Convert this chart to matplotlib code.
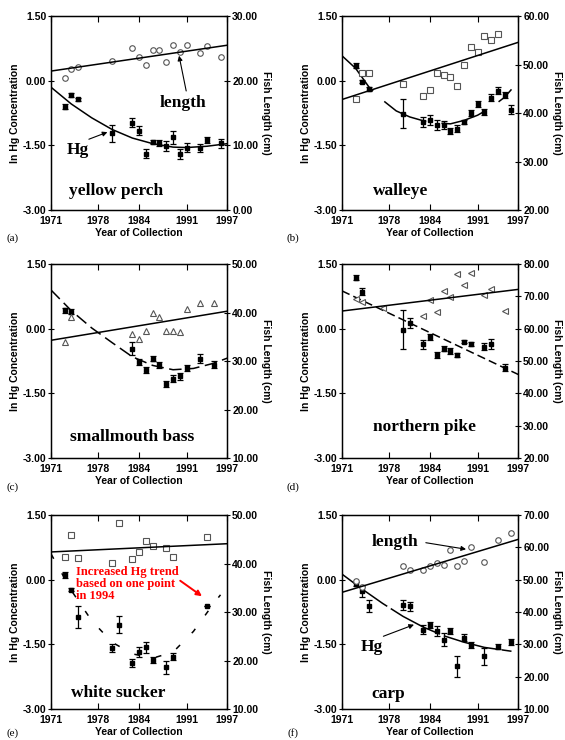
import matplotlib
matplotlib.use("Agg")
import matplotlib.pyplot as plt
from matplotlib.ticker import FormatStrFormatter

plt.rcParams["axes.unicode_minus"] = False
plt.rcParams["lines.scale_dashes"] = False
plt.rcParams["font.family"] = ["Liberation Sans", "DejaVu Sans"]

YEAR_TICKS = [1971, 1978, 1984, 1991, 1997]
HG_TICKS = [1.5, 0.0, -1.5, -3.0]

# ---------- (a) yellow perch ----------
perch_years = [1973, 1974, 1975, 1980, 1983, 1984, 1985, 1986, 1987, 1988, 1989, 1990, 1991, 1993, 1994, 1996]
perch_hg = [-0.60, -0.33, -0.43, -1.22, -0.97, -1.16, -1.69, -1.42, -1.45, -1.51, -1.31, -1.70, -1.55, -1.56, -1.38, -1.45]
perch_hg_err = [0.05, 0.04, 0.04, 0.20, 0.10, 0.10, 0.10, 0.05, 0.07, 0.12, 0.15, 0.12, 0.10, 0.10, 0.07, 0.10]
perch_len_years = perch_years
perch_len = [20.5, 21.8, 22.2, 23.1, 25.0, 23.6, 22.5, 24.7, 24.8, 22.9, 25.5, 24.4, 25.5, 24.3, 25.4, 23.7]
perch_fit_years = [1971, 1974, 1977, 1980, 1983, 1986, 1989, 1991, 1994, 1997]
perch_hg_fit = [-0.15, -0.54, -0.86, -1.13, -1.33, -1.46, -1.54, -1.55, -1.52, -1.46]
perch_len_fit = [21.5, 25.5]

# ---------- (b) walleye ----------
walleye_years = [1973, 1974, 1975, 1980, 1983, 1984, 1985, 1986, 1987, 1988, 1989, 1990, 1991, 1992, 1993, 1994, 1995, 1996]
walleye_hg = [0.35, -0.02, -0.19, -0.76, -0.95, -0.91, -1.03, -1.03, -1.16, -1.11, -0.95, -0.74, -0.54, -0.72, -0.39, -0.23, -0.32, -0.67]
walleye_hg_err = [0.06, 0.04, 0.04, 0.33, 0.12, 0.12, 0.12, 0.10, 0.07, 0.08, 0.05, 0.07, 0.07, 0.07, 0.08, 0.08, 0.07, 0.10]
walleye_len_years = [1973, 1974, 1975, 1980, 1983, 1984, 1985, 1986, 1987, 1988, 1989, 1990, 1991, 1992, 1993, 1994]
walleye_len = [43.0, 48.3, 48.2, 46.1, 43.5, 44.7, 48.3, 47.8, 47.4, 45.6, 49.9, 53.7, 52.6, 55.9, 55.1, 56.4]
walleye_fit_years = [1971, 1973, 1975, 1977, 1979, 1981, 1983, 1985, 1987, 1989, 1991, 1993, 1995, 1996]
walleye_hg_fit = [0.58, 0.29, -0.15, -0.45, -0.70, -0.84, -0.93, -0.98, -1.00, -0.92, -0.80, -0.62, -0.38, -0.20]
walleye_len_fit = [42.8, 54.6]

# ---------- (c) smallmouth bass ----------
smb_years = [1973, 1974, 1983, 1984, 1985, 1986, 1987, 1988, 1989, 1990, 1991, 1993, 1995]
smb_hg = [0.43, 0.40, -0.46, -0.77, -0.96, -0.69, -0.83, -1.29, -1.16, -1.10, -0.92, -0.69, -0.83]
smb_hg_err = [0.06, 0.05, 0.15, 0.08, 0.07, 0.05, 0.07, 0.07, 0.08, 0.08, 0.07, 0.10, 0.08]
smb_len_years = smb_years
smb_len = [34.0, 39.0, 35.5, 34.5, 36.2, 39.9, 39.1, 36.2, 36.2, 36.1, 40.7, 41.9, 41.9]
smb_fit_years = [1971, 1974, 1977, 1980, 1983, 1986, 1989, 1992, 1995, 1997]
smb_hg_fit = [0.90, 0.42, 0.02, -0.32, -0.65, -0.85, -0.95, -0.92, -0.80, -0.68]
smb_len_fit = [34.3, 40.3]

# ---------- (d) northern pike ----------
pike_years = [1973, 1974, 1980, 1981, 1983, 1984, 1985, 1986, 1987, 1988, 1989, 1990, 1992, 1993, 1995]
pike_hg = [1.19, 0.86, -0.02, 0.13, -0.36, -0.18, -0.61, -0.46, -0.51, -0.61, -0.30, -0.36, -0.42, -0.36, -0.90]
pike_hg_err = [0.05, 0.08, 0.46, 0.12, 0.10, 0.07, 0.07, 0.05, 0.07, 0.05, 0.03, 0.05, 0.08, 0.12, 0.08]
pike_len_years = [1973, 1974, 1977, 1983, 1984, 1985, 1986, 1987, 1988, 1989, 1990, 1992, 1993, 1995]
pike_len = [69.3, 68.3, 66.3, 64.0, 69.0, 65.3, 71.7, 69.9, 76.9, 73.5, 77.4, 70.5, 72.2, 65.5]
pike_fit_years = [1971, 1997]
pike_hg_fit = [0.88, -1.06]
pike_len_fit = [65.5, 72.2]

# ---------- (e) white sucker ----------
sucker_years = [1973, 1974, 1975, 1980, 1981, 1983, 1984, 1985, 1986, 1988, 1989, 1994]
sucker_hg = [0.11, -0.23, -0.86, -1.58, -1.04, -1.93, -1.68, -1.57, -1.87, -2.03, -1.79, -0.61]
sucker_hg_err = [0.08, 0.04, 0.25, 0.10, 0.20, 0.10, 0.12, 0.12, 0.07, 0.15, 0.08, 0.0]
sucker_len_years = sucker_years
sucker_len = [41.4, 45.9, 41.2, 40.1, 48.4, 41.0, 42.4, 44.6, 43.6, 43.2, 41.4, 45.5]
sucker_fit_years = [1971, 1974, 1977, 1980, 1983, 1986, 1989, 1992, 1995, 1996]
sucker_hg_fit = [0.60, -0.25, -0.95, -1.45, -1.72, -1.82, -1.68, -1.20, -0.55, -0.35]
sucker_len_fit = [42.4, 44.1]

# ---------- (f) carp ----------
carp_years = [1973, 1974, 1975, 1980, 1981, 1983, 1984, 1985, 1986, 1987, 1988, 1989, 1990, 1992, 1994, 1996]
carp_hg = [-0.10, -0.27, -0.61, -0.58, -0.62, -1.16, -1.06, -1.19, -1.39, -1.19, -2.01, -1.35, -1.51, -1.78, -1.55, -1.45]
carp_hg_err = [0.05, 0.12, 0.15, 0.12, 0.10, 0.10, 0.07, 0.12, 0.15, 0.08, 0.25, 0.08, 0.07, 0.20, 0.05, 0.07]
carp_len_years = [1973, 1974, 1980, 1981, 1983, 1984, 1985, 1986, 1987, 1988, 1989, 1990, 1992, 1994, 1996]
carp_len = [49.6, 47.7, 54.3, 53.0, 53.0, 54.3, 55.1, 54.6, 59.2, 54.1, 55.8, 60.2, 55.4, 62.3, 64.5]
carp_fit_years = [1971, 1974, 1977, 1980, 1983, 1986, 1989, 1992, 1996]
carp_hg_fit = [0.13, -0.22, -0.55, -0.85, -1.10, -1.30, -1.45, -1.57, -1.66]
carp_len_fit = [46.1, 62.5]

LEN_LIMITS = {"a": (0, 30), "b": (20, 60), "c": (10, 50), "d": (20, 80), "e": (10, 50), "f": (10, 70)}

SERIF = ["Liberation Serif", "DejaVu Serif"]


def draw_panel(rect, letter, years, hg, hg_err, len_years, length, fit_years, hg_fit,
               len_fit, len_marker, dashes):
    ax = fig.add_axes(rect)
    ax2 = ax.twinx()

    # Hg concentration (left axis)
    ax.errorbar(years, hg, yerr=hg_err, fmt="s", ms=3, color="black",
                ecolor="black", elinewidth=0.9, capsize=2, capthick=0.9, zorder=3)
    if dashes is None:
        ax.plot(fit_years, hg_fit, color="black", lw=1.1)
    else:
        ax.plot(fit_years, hg_fit, color="black", lw=1.1, dashes=dashes)

    # fish length (right axis)
    ax2.plot(len_years, length, linestyle="none", marker=len_marker, ms=4,
             mfc="white", mec="#555555", mew=0.8)
    ax2.plot([1971, 1997], len_fit, color="black", lw=1.1)

    ax.set_xlim(1971, 1997)
    ax.set_ylim(-3.0, 1.5)
    ax2.set_ylim(*LEN_LIMITS[letter])
    ax.set_xticks(YEAR_TICKS)
    ax.set_yticks(HG_TICKS)
    lo, hi = LEN_LIMITS[letter]
    ax2.set_yticks(list(range(lo, hi + 1, 10)))
    ax.yaxis.set_major_formatter(FormatStrFormatter("%.2f"))
    ax2.yaxis.set_major_formatter(FormatStrFormatter("%.2f"))

    ax.tick_params(axis="x", direction="in", top=True, length=4, width=0.8,
                   labelsize=7.5, pad=4)
    ax.tick_params(axis="y", direction="inout", length=5, width=0.8,
                   labelsize=7.5, pad=1)
    ax2.tick_params(axis="y", direction="inout", length=5, width=0.8,
                    labelsize=7.5, pad=1)
    for lab in ax.get_xticklabels() + ax.get_yticklabels() + ax2.get_yticklabels():
        lab.set_fontweight("bold")
    for sp in ax.spines.values():
        sp.set_linewidth(1.0)

    ax.set_xlabel("Year of Collection", fontsize=7.5, fontweight="bold", labelpad=2)
    ax.set_ylabel("ln Hg Concentration", fontsize=7.5, fontweight="bold", labelpad=2)
    ax2.set_ylabel("Fish Length (cm)", fontsize=7.5, fontweight="bold",
                   rotation=270, labelpad=9)
    return ax, ax2


fig = plt.figure(figsize=(5.65, 7.4), dpi=100)

W, H = 0.312, 0.262
LEFT_X, RIGHT_X = 0.0903, 0.6053
ROW_Y = [0.7162, 0.381, 0.0419]

ax_a, ax2_a = draw_panel([LEFT_X, ROW_Y[0], W, H], "a", perch_years, perch_hg, perch_hg_err,
                         perch_len_years, perch_len, perch_fit_years, perch_hg_fit,
                         perch_len_fit, "o", None)
ax_b, ax2_b = draw_panel([RIGHT_X, ROW_Y[0], W, H], "b", walleye_years, walleye_hg, walleye_hg_err,
                         walleye_len_years, walleye_len, walleye_fit_years, walleye_hg_fit,
                         walleye_len_fit, "s", (34, 11))
ax_c, ax2_c = draw_panel([LEFT_X, ROW_Y[1], W, H], "c", smb_years, smb_hg, smb_hg_err,
                         smb_len_years, smb_len, smb_fit_years, smb_hg_fit,
                         smb_len_fit, "^", (9, 4))
ax_d, ax2_d = draw_panel([RIGHT_X, ROW_Y[1], W, H], "d", pike_years, pike_hg, pike_hg_err,
                         pike_len_years, pike_len, pike_fit_years, pike_hg_fit,
                         pike_len_fit, "<", (6, 3))
ax_e, ax2_e = draw_panel([LEFT_X, ROW_Y[2], W, H], "e", sucker_years, sucker_hg, sucker_hg_err,
                         sucker_len_years, sucker_len, sucker_fit_years, sucker_hg_fit,
                         sucker_len_fit, "s", (4, 12))
ax_f, ax2_f = draw_panel([RIGHT_X, ROW_Y[2], W, H], "f", carp_years, carp_hg, carp_hg_err,
                         carp_len_years, carp_len, carp_fit_years, carp_hg_fit,
                         carp_len_fit, "o", (40, 3))

name_kw = dict(fontsize=12.5, fontweight="bold", family=SERIF, ha="center", va="center")
arrow_kw = dict(arrowstyle="-|>", color="black", lw=0.8, mutation_scale=7)

# (a) annotations
ax2_a.text(0.75, 0.55, "length", transform=ax2_a.transAxes, zorder=5, **name_kw)
ax2_a.annotate("", xy=(1989.8, 24.3), xytext=(0.77, 0.6), textcoords="axes fraction",
               arrowprops=arrow_kw)
ax2_a.text(0.15, 0.31, "Hg", transform=ax2_a.transAxes, **name_kw)
ax_a.annotate("", xy=(1979.7, -1.17), xytext=(0.2, 0.36), textcoords="axes fraction",
              arrowprops=arrow_kw)
ax2_a.text(0.37, 0.1, "yellow perch", transform=ax2_a.transAxes, **name_kw)

ax2_b.text(0.33, 0.1, "walleye", transform=ax2_b.transAxes, **name_kw)
ax2_c.text(0.46, 0.11, "smallmouth bass", transform=ax2_c.transAxes, **name_kw)
ax2_d.text(0.47, 0.16, "northern pike", transform=ax2_d.transAxes, **name_kw)
ax2_e.text(0.38, 0.08, "white sucker", transform=ax2_e.transAxes, **name_kw)

# (e) red note
ax2_e.text(0.14, 0.74, "Increased Hg trend\nbased on one point\nin 1994", transform=ax2_e.transAxes,
           color="red", fontsize=9, fontweight="bold", family=SERIF, ha="left", va="top",
           linespacing=1.05, zorder=5)
ax_e.annotate("", xy=(1993.6, -0.42), xytext=(0.72, 0.67), textcoords="axes fraction",
              arrowprops=dict(arrowstyle="-|>", color="red", lw=1.4, mutation_scale=8))

# (f) annotations
ax2_f.text(0.3, 0.86, "length", transform=ax2_f.transAxes, **name_kw)
ax2_f.annotate("", xy=(1989.7, 59.3), xytext=(0.46, 0.86), textcoords="axes fraction",
               arrowprops=arrow_kw)
ax2_f.text(0.17, 0.32, "Hg", transform=ax2_f.transAxes, **name_kw)
ax_f.annotate("", xy=(1982.0, -1.02), xytext=(0.22, 0.37), textcoords="axes fraction",
              arrowprops=arrow_kw)
ax2_f.text(0.26, 0.075, "carp", transform=ax2_f.transAxes, **name_kw)

# panel letters
for x, y, lab in [(0.023, 0.678, "(a)"), (0.519, 0.678, "(b)"), (0.023, 0.342, "(c)"),
                  (0.519, 0.342, "(d)"), (0.023, 0.009, "(e)"), (0.519, 0.009, "(f)")]:
    fig.text(x, y, lab, fontsize=8, family=SERIF, ha="center", va="center")

fig.savefig("out.png", dpi=100)
